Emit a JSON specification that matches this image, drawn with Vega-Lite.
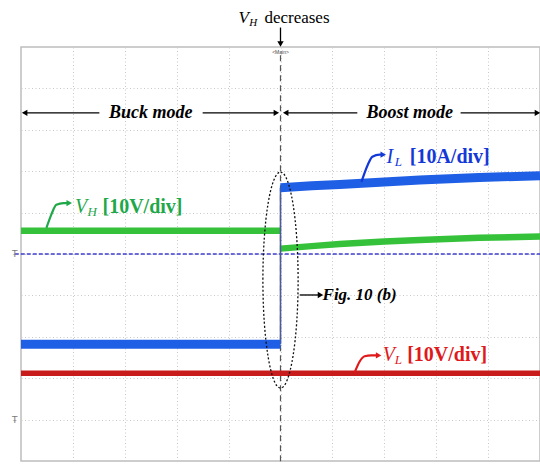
{
  "$schema": "https://vega.github.io/schema/vega-lite/v6.json",
  "width": 519,
  "height": 414,
  "autosize": {"type": "none"},
  "padding": {"left": 21, "top": 47, "right": 0, "bottom": 4},
  "background": "white",
  "config": {
    "view": {"stroke": "#bdbdbd", "strokeWidth": 1.5},
    "mark": {"font": "Liberation Serif"},
    "text": {"font": "Liberation Serif"}
  },
  "datasets": {
    "traces": [
      {"s": "VH_a", "x": -5, "y": 0.56}, {"s": "VH_a", "x": 0, "y": 0.56},
      {"s": "VH_b", "x": 0, "y": 0.13}, {"s": "VH_b", "x": 0.6, "y": 0.19}, {"s": "VH_b", "x": 1.14, "y": 0.24}, {"s": "VH_b", "x": 2, "y": 0.3}, {"s": "VH_b", "x": 2.68, "y": 0.34}, {"s": "VH_b", "x": 3.83, "y": 0.39}, {"s": "VH_b", "x": 5, "y": 0.42},
      {"s": "IL_a", "x": -5, "y": -2.18}, {"s": "IL_a", "x": 0, "y": -2.18},
      {"s": "IL_b", "x": 0, "y": 1.6}, {"s": "IL_b", "x": 0.6, "y": 1.65}, {"s": "IL_b", "x": 1.14, "y": 1.68}, {"s": "IL_b", "x": 2, "y": 1.74}, {"s": "IL_b", "x": 2.68, "y": 1.79}, {"s": "IL_b", "x": 3.83, "y": 1.85}, {"s": "IL_b", "x": 5, "y": 1.89},
      {"s": "VL", "x": -5, "y": -2.88}, {"s": "VL", "x": 5, "y": -2.88}
    ],
    "callouts": [
      {"s": "VH", "x": -4.51, "y": 0.63}, {"s": "VH", "x": -4.41, "y": 0.97}, {"s": "VH", "x": -4.32, "y": 1.19}, {"s": "VH", "x": -4.18, "y": 1.23}, {"s": "VH", "x": -4.1, "y": 1.23},
      {"s": "IL", "x": 1.56, "y": 1.74}, {"s": "IL", "x": 1.68, "y": 2.15}, {"s": "IL", "x": 1.77, "y": 2.35}, {"s": "IL", "x": 1.91, "y": 2.4}, {"s": "IL", "x": 1.95, "y": 2.4},
      {"s": "VL", "x": 1.43, "y": -2.86}, {"s": "VL", "x": 1.52, "y": -2.61}, {"s": "VL", "x": 1.62, "y": -2.47}, {"s": "VL", "x": 1.75, "y": -2.45}, {"s": "VL", "x": 1.86, "y": -2.45}
    ],
    "heads": [
      {"s": "VH", "d": "right", "x": -4.07, "y": 1.23},
      {"s": "IL", "d": "right", "x": 1.98, "y": 2.4},
      {"s": "VL", "d": "right", "x": 1.89, "y": -2.45},
      {"s": "K", "d": "right", "x": 0.77, "y": -0.99},
      {"s": "K", "d": "left", "x": -4.93, "y": 3.41},
      {"s": "K", "d": "right", "x": -0.08, "y": 3.41},
      {"s": "K", "d": "left", "x": 0.1, "y": 3.41},
      {"s": "K", "d": "right", "x": 4.95, "y": 3.41},
      {"s": "K", "d": "down", "x": 0, "y": 5.07}
    ],
    "hrules": [
      {"x": -4.95, "x2": -3.49, "y": 3.41},
      {"x": -1.5, "x2": -0.1, "y": 3.41},
      {"x": 0.12, "x2": 1.48, "y": 3.41},
      {"x": 3.47, "x2": 4.92, "y": 3.41},
      {"x": 0.37, "x2": 0.74, "y": -0.99}
    ],
    "labels": [
      {"g": "mode", "t": "Buck mode", "x": -2.5, "y": 3.41},
      {"g": "mode", "t": "Boost mode", "x": 2.49, "y": 3.41},
      {"g": "fig", "t": "Fig. 10 (b)", "x": 0.81, "y": -0.99},
      {"g": "title", "t": "decreases", "x": -0.31, "y": 5.69},
      {"g": "titleV", "t": "V", "x": -0.81, "y": 5.69},
      {"g": "titleSub", "t": "H", "x": -0.6, "y": 5.57},
      {"g": "main", "t": "<Main>", "x": 0, "y": 4.87},
      {"g": "VHv", "t": "V", "x": -3.96, "y": 1.14},
      {"g": "VHsub", "t": "H", "x": -3.72, "y": 1.02},
      {"g": "VHunit", "t": "[10V/div]", "x": -3.43, "y": 1.14},
      {"g": "ILv", "t": "I", "x": 2.04, "y": 2.35},
      {"g": "ILsub", "t": "L", "x": 2.2, "y": 2.23},
      {"g": "ILunit", "t": "[10A/div]", "x": 2.49, "y": 2.35},
      {"g": "VLv", "t": "V", "x": 1.97, "y": -2.45},
      {"g": "VLsub", "t": "L", "x": 2.2, "y": -2.57},
      {"g": "VLunit", "t": "[10V/div]", "x": 2.44, "y": -2.45},
      {"g": "gnd", "t": "Ŧ", "x": -5.12, "y": 0},
      {"g": "gnd", "t": "Ŧ", "x": -5.12, "y": -4}
    ]
  },
  "encoding": {
    "x": {"field": "x", "type": "quantitative", "scale": {"domain": [-5, 5], "nice": false, "zero": false},
      "axis": {"values": [-4, -3, -2, -1, 0, 1, 2, 3, 4], "grid": true, "labels": false, "ticks": false, "domain": false, "title": null, "gridColor": "#c8c8c8", "gridDash": [1, 2.5], "gridWidth": 1}},
    "y": {"field": "y", "type": "quantitative", "scale": {"domain": [-5, 5], "nice": false, "zero": false},
      "axis": {"values": [-4, -3, -2, -1, 0, 1, 2, 3, 4], "grid": true, "labels": false, "ticks": false, "domain": false, "title": null, "gridColor": "#c8c8c8", "gridDash": [1, 2.5], "gridWidth": 1}}
  },
  "layer": [
    {
      "data": {"values": [{"x": -5.12, "x2": 5, "y": 0}]},
      "mark": {"type": "rule", "color": "#3d3dd0", "strokeWidth": 1.4, "strokeDash": [4, 2]},
      "encoding": {"x2": {"field": "x2"}}
    },
    {
      "data": {"values": [{"x": 0, "y": 4.8, "y2": -5.1}]},
      "mark": {"type": "rule", "color": "#555555", "strokeWidth": 1.2, "strokeDash": [6, 4]},
      "encoding": {"y2": {"field": "y2"}}
    },
    {
      "data": {"values": [{"x": 0, "y": 5.47, "y2": 5.1}]},
      "mark": {"type": "rule", "color": "#000000", "strokeWidth": 1.3},
      "encoding": {"y2": {"field": "y2"}}
    },
    {
      "data": {"name": "traces"},
      "transform": [{"filter": "datum.s === 'VL'"}],
      "mark": {"type": "line", "color": "#c81b1b", "strokeWidth": 5.5},
      "encoding": {"detail": {"field": "s"}}
    },
    {
      "data": {"name": "traces"},
      "transform": [{"filter": "datum.s === 'VH_a' || datum.s === 'VH_b'"}],
      "mark": {"type": "line", "color": "#35c23a", "strokeWidth": 6.5},
      "encoding": {"detail": {"field": "s"}}
    },
    {
      "data": {"values": [{"x": 0, "y": -2.18, "y2": 1.6}]},
      "mark": {"type": "rule", "color": "#4a5a9a", "strokeWidth": 1.6},
      "encoding": {"y2": {"field": "y2"}}
    },
    {
      "data": {"name": "traces"},
      "transform": [{"filter": "datum.s === 'IL_a' || datum.s === 'IL_b'"}],
      "mark": {"type": "line", "color": "#1f5fe6", "strokeWidth": 9},
      "encoding": {"detail": {"field": "s"}}
    },
    {
      "data": {"values": [{"x": 0, "y": -0.63}]},
      "mark": {"type": "point", "shape": "M0,-1A0.163,1,0,1,1,0,1A0.163,1,0,1,1,0,-1Z", "size": 46656, "filled": false, "stroke": "#111111", "strokeWidth": 1.3, "strokeDash": [2, 2], "opacity": 1}
    },
    {
      "data": {"name": "hrules"},
      "mark": {"type": "rule", "color": "#000000", "strokeWidth": 1.3},
      "encoding": {"x2": {"field": "x2"}}
    },
    {
      "data": {"name": "callouts"},
      "transform": [{"filter": "datum.s === 'VH'"}],
      "mark": {"type": "line", "color": "#1fa84a", "strokeWidth": 2.2, "interpolate": "monotone"}
    },
    {
      "data": {"name": "callouts"},
      "transform": [{"filter": "datum.s === 'IL'"}],
      "mark": {"type": "line", "color": "#1438d8", "strokeWidth": 2.2, "interpolate": "monotone"}
    },
    {
      "data": {"name": "callouts"},
      "transform": [{"filter": "datum.s === 'VL'"}],
      "mark": {"type": "line", "color": "#e0191b", "strokeWidth": 2.2, "interpolate": "monotone"}
    },
    {
      "data": {"name": "heads"},
      "mark": {"type": "point", "filled": true, "size": 40, "opacity": 1, "strokeWidth": 0},
      "encoding": {
        "shape": {"field": "d", "type": "nominal", "scale": {"domain": ["left", "right", "down"], "range": ["triangle-left", "triangle-right", "triangle-down"]}, "legend": null},
        "color": {"field": "s", "type": "nominal", "scale": {"domain": ["VH", "IL", "VL", "K"], "range": ["#1fa84a", "#1438d8", "#e0191b", "#000000"]}, "legend": null}
      }
    },
    {
      "data": {"name": "labels"},
      "transform": [{"filter": "datum.g === 'mode'"}],
      "mark": {"type": "text", "font": "Liberation Serif", "fontSize": 18, "fontWeight": "bold", "fontStyle": "italic", "align": "center", "baseline": "middle", "color": "#000000"},
      "encoding": {"text": {"field": "t"}}
    },
    {
      "data": {"name": "labels"},
      "transform": [{"filter": "datum.g === 'fig'"}],
      "mark": {"type": "text", "font": "Liberation Serif", "fontSize": 17, "fontWeight": "bold", "fontStyle": "italic", "align": "left", "baseline": "middle", "color": "#000000"},
      "encoding": {"text": {"field": "t"}}
    },
    {
      "data": {"name": "labels"},
      "transform": [{"filter": "datum.g === 'title'"}],
      "mark": {"type": "text", "font": "Liberation Serif", "fontSize": 17, "align": "left", "baseline": "middle", "color": "#000000"},
      "encoding": {"text": {"field": "t"}}
    },
    {
      "data": {"name": "labels"},
      "transform": [{"filter": "datum.g === 'titleV'"}],
      "mark": {"type": "text", "font": "Liberation Serif", "fontSize": 17, "fontStyle": "italic", "align": "left", "baseline": "middle", "color": "#000000"},
      "encoding": {"text": {"field": "t"}}
    },
    {
      "data": {"name": "labels"},
      "transform": [{"filter": "datum.g === 'titleSub'"}],
      "mark": {"type": "text", "font": "Liberation Serif", "fontSize": 11, "fontStyle": "italic", "align": "left", "baseline": "middle", "color": "#000000"},
      "encoding": {"text": {"field": "t"}}
    },
    {
      "data": {"name": "labels"},
      "transform": [{"filter": "datum.g === 'main'"}],
      "mark": {"type": "text", "fontSize": 5, "align": "center", "baseline": "middle", "color": "#444444", "font": "Liberation Sans"},
      "encoding": {"text": {"field": "t"}}
    },
    {
      "data": {"name": "labels"},
      "transform": [{"filter": "datum.g === 'gnd'"}],
      "mark": {"type": "text", "fontSize": 9, "align": "center", "baseline": "middle", "color": "#7a7a7a", "font": "DejaVu Sans"},
      "encoding": {"text": {"field": "t"}}
    },
    {
      "data": {"name": "labels"},
      "transform": [{"filter": "datum.g === 'VHv'"}],
      "mark": {"type": "text", "font": "Liberation Serif", "fontSize": 20, "fontStyle": "italic", "align": "left", "baseline": "middle", "color": "#1fa84a"},
      "encoding": {"text": {"field": "t"}}
    },
    {
      "data": {"name": "labels"},
      "transform": [{"filter": "datum.g === 'VHsub'"}],
      "mark": {"type": "text", "font": "Liberation Serif", "fontSize": 13, "fontStyle": "italic", "align": "left", "baseline": "middle", "color": "#1fa84a"},
      "encoding": {"text": {"field": "t"}}
    },
    {
      "data": {"name": "labels"},
      "transform": [{"filter": "datum.g === 'VHunit'"}],
      "mark": {"type": "text", "font": "Liberation Serif", "fontSize": 20, "fontWeight": "bold", "align": "left", "baseline": "middle", "color": "#1fa84a"},
      "encoding": {"text": {"field": "t"}}
    },
    {
      "data": {"name": "labels"},
      "transform": [{"filter": "datum.g === 'ILv'"}],
      "mark": {"type": "text", "font": "Liberation Serif", "fontSize": 20, "fontStyle": "italic", "align": "left", "baseline": "middle", "color": "#1438d8"},
      "encoding": {"text": {"field": "t"}}
    },
    {
      "data": {"name": "labels"},
      "transform": [{"filter": "datum.g === 'ILsub'"}],
      "mark": {"type": "text", "font": "Liberation Serif", "fontSize": 13, "fontStyle": "italic", "align": "left", "baseline": "middle", "color": "#1438d8"},
      "encoding": {"text": {"field": "t"}}
    },
    {
      "data": {"name": "labels"},
      "transform": [{"filter": "datum.g === 'ILunit'"}],
      "mark": {"type": "text", "font": "Liberation Serif", "fontSize": 20, "fontWeight": "bold", "align": "left", "baseline": "middle", "color": "#1438d8"},
      "encoding": {"text": {"field": "t"}}
    },
    {
      "data": {"name": "labels"},
      "transform": [{"filter": "datum.g === 'VLv'"}],
      "mark": {"type": "text", "font": "Liberation Serif", "fontSize": 20, "fontStyle": "italic", "align": "left", "baseline": "middle", "color": "#e0191b"},
      "encoding": {"text": {"field": "t"}}
    },
    {
      "data": {"name": "labels"},
      "transform": [{"filter": "datum.g === 'VLsub'"}],
      "mark": {"type": "text", "font": "Liberation Serif", "fontSize": 13, "fontStyle": "italic", "align": "left", "baseline": "middle", "color": "#e0191b"},
      "encoding": {"text": {"field": "t"}}
    },
    {
      "data": {"name": "labels"},
      "transform": [{"filter": "datum.g === 'VLunit'"}],
      "mark": {"type": "text", "font": "Liberation Serif", "fontSize": 20, "fontWeight": "bold", "align": "left", "baseline": "middle", "color": "#e0191b"},
      "encoding": {"text": {"field": "t"}}
    }
  ]
}
